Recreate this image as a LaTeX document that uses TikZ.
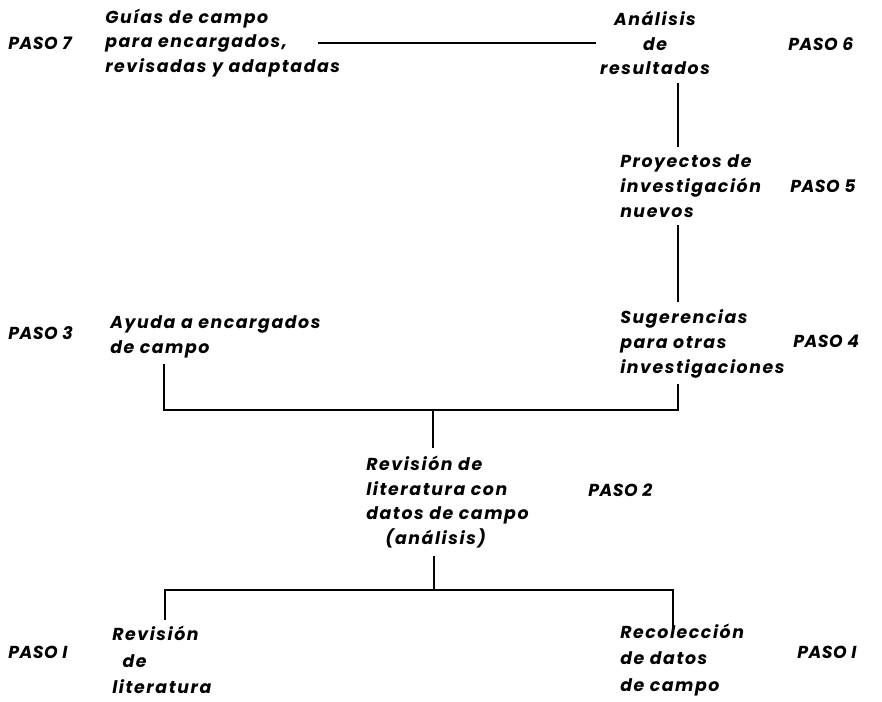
\documentclass[tikz,border=0pt]{standalone}
\usepackage{fontspec}
\setmainfont{Poppins}
\newfontfamily\bodyfont{Poppins}[LetterSpace=9]
\newfontfamily\pasofont{Poppins}[LetterSpace=3]
\begin{document}
\begin{tikzpicture}[x=0.75pt,y=-0.75pt,
  txt/.style={inner sep=0pt, font=\bodyfont\fontsize{13}{18.5}\selectfont\bfseries\itshape, align=left, anchor=west},
  txtwide/.style={txt, font=\bodyfont\fontsize{13}{20}\selectfont\bfseries\itshape},
  paso/.style={txt, font=\pasofont\fontsize{13}{18.5}\selectfont\bfseries\itshape},
  conn/.style={line width=1.6pt}]
\useasboundingbox (0,0) rectangle (882,701);
% nodes
\node[paso] (p7) at (8,43) {PASO 7};
\node[txt] (guias) at (105,43) {Guías de campo\\para encargados,\\revisadas y adaptadas};
\node[txt, align=center, anchor=center] (anal) at (655,43) {Análisis\\de\\resultados};
\node[paso] (p6) at (788,44) {PASO 6};
\node[txt] (proy) at (620,186) {Proyectos de\\investigación\\nuevos};
\node[paso] (p5) at (790,186) {PASO 5};
\node[txt] (sug) at (620,344) {Sugerencias\\para otras\\investigaciones};
\node[paso] (p4) at (793,341) {PASO 4};
\node[paso] (p3) at (8,333) {PASO 3};
\node[txt] (ayuda) at (110,337) {Ayuda a encargados\\de campo};
\node[txt] (rev2) at (366,502) {Revisión de\\literatura con\\datos de campo\\\hspace*{1.1em}(análisis)};
\node[paso] (p2) at (588,490) {PASO 2};
\node[txtwide] (rev1) at (112,660) {Revisión\\\hspace*{0.6em}de\\literatura};
\node[txtwide] (rec) at (620,660) {Recolección\\de datos\\de campo};
\node[paso] (p1a) at (8,652) {PASO I};
\node[paso] (p1b) at (797,652) {PASO I};
% junction coordinates
\coordinate (jtop) at (433,410);
\coordinate (jbot) at (434,590);
% connectors
\draw[conn] (318,0 |- guias.east) -- ([xshift=-3pt]anal.west);
\draw[conn] ([yshift=-6pt]anal.south -| 678,0) -- ([yshift=6pt]proy.north -| 678,0);
\draw[conn] ([yshift=-6pt]proy.south -| 678,0) -- ([yshift=6pt]sug.north -| 678,0);
\draw[conn] ([yshift=-4pt]ayuda.south -| 164,0) |- (jtop) -| ([yshift=-4pt]sug.south -| 678,0);
\draw[conn] (jtop) -- ([yshift=6pt]rev2.north -| jtop);
\draw[conn] ([yshift=-6pt]rev2.south -| jbot) -- (jbot);
\draw[conn] ([yshift=4pt]rev1.north -| 165,0) |- (jbot) -| ([yshift=-8pt]rec.north -| 673,0);
\end{tikzpicture}
\end{document}
